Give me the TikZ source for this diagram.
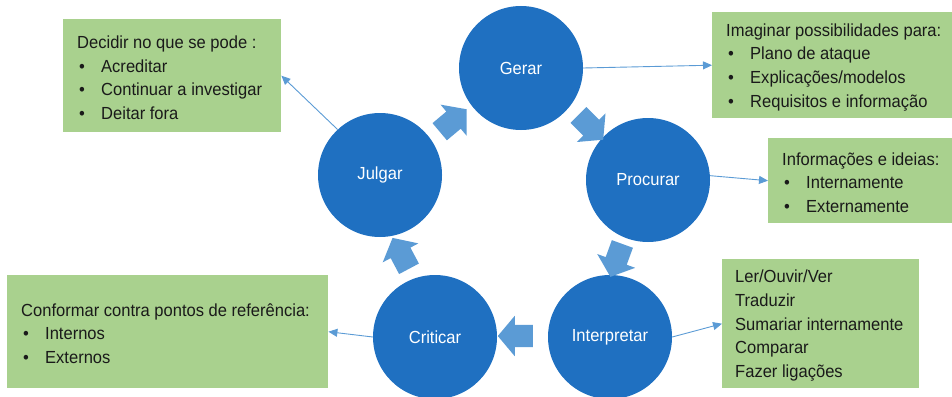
\documentclass[tikz,border=0pt]{standalone}
\usepackage{fontspec}
\setmainfont[FakeStretch=0.945]{Liberation Sans}
\usetikzlibrary{shapes.arrows,arrows.meta}
\definecolor{cyclefill}{HTML}{1F70C1}
\definecolor{flowblue}{HTML}{5B9BD5}
\definecolor{notegreen}{HTML}{A9D18E}
\definecolor{inktext}{HTML}{1A1A1A}
\newcommand\notebullet{\hspace*{2pt}\makebox[22pt][l]{\textbullet}}

\begin{document}
\begin{tikzpicture}[x=1pt,y=-1pt,
  stage/.style={circle, fill=cyclefill, minimum size=124pt, inner sep=0pt,
    text=white, font=\fontsize{17.5}{21}\selectfont},
  note/.style={rectangle, fill=notegreen, inner sep=0pt, anchor=north west},
  notetext/.style={anchor=west, align=left, inner sep=0pt, text=inktext,
    font=\fontsize{17.5}{23.7}\selectfont},
  turn/.style={single arrow, fill=flowblue, draw=none, inner xsep=0pt,
    inner ysep=11pt, minimum height=35pt, minimum width=40pt,
    single arrow head extend=9pt, single arrow tip angle=100,
    single arrow head indent=0pt},
  link/.style={draw=flowblue, line width=0.9pt,
    -{Triangle[length=9pt,width=8pt]}}
]
\useasboundingbox (0,0) rectangle (952,396);
\clip (0,0) rectangle (952,396);

% green note boxes
\node[note, minimum width=218pt, minimum height=113pt] (n1) at (63,19) {};
\node[note, minimum width=268pt, minimum height=106pt] (n2) at (712,12) {};
\node[note, minimum width=212pt, minimum height=85pt]  (n3) at (768,138) {};
\node[note, minimum width=197pt, minimum height=129pt] (n4) at (722,259) {};
\node[note, minimum width=321pt, minimum height=113pt] (n5) at (7,275) {};

% note texts
\node[notetext] (t1) at ([xshift=14pt,yshift=-2pt]n1.west)
  {Decidir no que se pode :\\ \notebullet Acreditar\\
   \notebullet Continuar a investigar\\ \notebullet Deitar fora};
\node[notetext] (t2) at ([xshift=14pt,yshift=-2pt]n2.west)
  {Imaginar possibilidades para:\\ \notebullet Plano de ataque\\
   \notebullet Explicações/modelos\\ \notebullet Requisitos e informação};
\node[notetext] (t3) at ([xshift=14pt,yshift=-2pt]n3.west)
  {Informações e ideias:\\ \notebullet Internamente\\ \notebullet Externamente};
\node[notetext] (t4) at ([xshift=13pt,yshift=-2pt]n4.west)
  {Ler/Ouvir/Ver\\ Traduzir\\ Sumariar internamente\\ Comparar\\ Fazer ligações};
\node[notetext] (t5) at ([xshift=14pt,yshift=-2pt]n5.west)
  {Conformar contra pontos de referência:\\ \notebullet Internos\\ \notebullet Externos};

% cycle stages
\node[stage] (gerar) at (521,68) {Gerar};
\node[stage] (procurar) at (648,180) {Procurar};
\node[stage] (interpretar) at (610,337) {Interpretar};
\node[stage] (criticar) at (435,337) {Criticar};
\node[stage] (julgar) at (380,175) {Julgar};

% block arrows between stages
\node[turn, rotate=40]   (jg) at (449.5,123.5) {};
\node[turn, rotate=-45]  (gp) at (587.5,124) {};
\node[turn, rotate=-110] (pi) at (618,256) {};
\node[turn, rotate=180]  (ic) at (520,336) {};
\node[turn, rotate=118]  (cj) at (403,257.5) {};

% links from stages to notes
\draw[link] (gerar.east) -- (n2.west);
\draw[link] (procurar.4) -- (n3.west);
\draw[link] (interpretar.east) -- (n4.west);
\draw[link] (criticar.west) -- (n5.east);
\draw[link] (julgar.133) -- (n1.east);
\end{tikzpicture}
\end{document}
